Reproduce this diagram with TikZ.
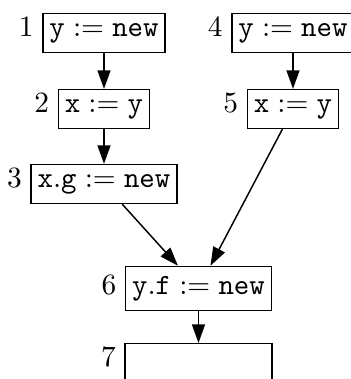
\documentclass[tikz,border=0pt]{standalone}
\usetikzlibrary{arrows.meta}
\begin{document}
\begin{tikzpicture}[x=0.34pt,y=-0.34pt,
  stmt/.style={draw, line width=0.5pt, inner xsep=2.2pt, inner ysep=3.33pt},
  num/.style={anchor=base east, inner sep=0pt},
  flow/.style={-{Triangle[length=6.3pt,width=4.4pt]}, line width=0.5pt}]
\useasboundingbox (0,0) rectangle (351,379);
\clip (0,0) rectangle (351,379);
\node[stmt] (b1) at (104,33) {$\mathtt{y} := \mathtt{new}$};
\node[stmt] (b2) at (104,109) {$\mathtt{x} := \mathtt{y}$};
\node[stmt] (b3) at (104,184) {$\mathtt{x}.\mathtt{g} := \mathtt{new}$};
\node[stmt] (b4) at (293,33) {$\mathtt{y} := \mathtt{new}$};
\node[stmt] (b5) at (293,109) {$\mathtt{x} := \mathtt{y}$};
\node[stmt] (b6) at (198.5,288.5) {$\mathtt{y}.\mathtt{f} := \mathtt{new}$};
\node[stmt, minimum width=147*0.34pt, anchor=north] (b7) at (198.5,343) {$\vphantom{\mathtt{y}}$};
\node[num] (l1) at ([xshift=-2.7pt]b1.base west) {1};
\node[num] (l2) at ([xshift=-2.7pt]b2.base west) {2};
\node[num] (l3) at ([xshift=-2.7pt]b3.base west) {3};
\node[num] (l4) at ([xshift=-2.7pt]b4.base west) {4};
\node[num] (l5) at ([xshift=-2.7pt]b5.base west) {5};
\node[num] (l6) at ([xshift=-2.7pt]b6.base west) {6};
\node[num] (l7) at ([xshift=-2.7pt]b7.base west) {7};
\draw[flow] (b1) -- (b2);
\draw[flow] (b2) -- (b3);
\draw[flow] (b4) -- (b5);
\draw[flow] (b3) -- (b6);
\draw[flow] (b5) -- (b6);
\draw[flow] (b6) -- (b7);
\end{tikzpicture}
\end{document}
